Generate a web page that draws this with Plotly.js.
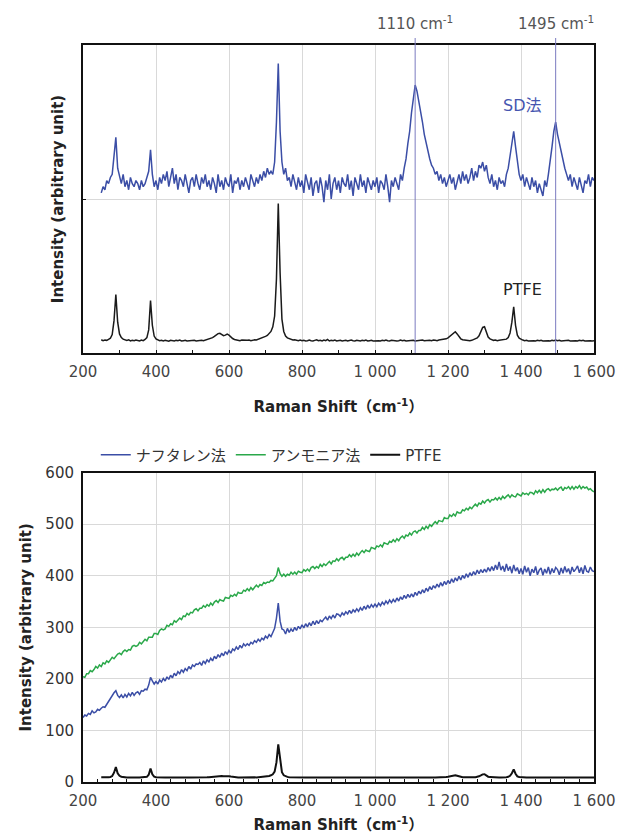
<!DOCTYPE html>
<html><head><meta charset="utf-8">
<script src="https://cdn.plot.ly/plotly-3.0.1.min.js"></script>
<style>html,body{margin:0;padding:0;background:#fff}#chart{width:617px;height:834px}</style>
</head><body><div id="chart"></div>
<script>
// Raman shift grid (cm-1)
const shift = [
200,205,210,215,220,225,230,235,240,245,
250,255,260,265,270,275,280,285,290,295,
300,305,310,315,320,325,330,335,340,345,
350,355,360,365,370,375,380,385,390,395,
400,405,410,415,420,425,430,435,440,445,
450,455,460,465,470,475,480,485,490,495,
500,505,510,515,520,525,530,535,540,545,
550,555,560,565,570,575,580,585,590,595,
600,605,610,615,620,625,630,635,640,645,
650,655,660,665,670,675,680,685,690,695,
700,705,710,715,720,725,730,735,740,745,
750,755,760,765,770,775,780,785,790,795,
800,805,810,815,820,825,830,835,840,845,
850,855,860,865,870,875,880,885,890,895,
900,905,910,915,920,925,930,935,940,945,
950,955,960,965,970,975,980,985,990,995,
1000,1005,1010,1015,1020,1025,1030,1035,1040,1045,
1050,1055,1060,1065,1070,1075,1080,1085,1090,1095,
1100,1105,1110,1115,1120,1125,1130,1135,1140,1145,
1150,1155,1160,1165,1170,1175,1180,1185,1190,1195,
1200,1205,1210,1215,1220,1225,1230,1235,1240,1245,
1250,1255,1260,1265,1270,1275,1280,1285,1290,1295,
1300,1305,1310,1315,1320,1325,1330,1335,1340,1345,
1350,1355,1360,1365,1370,1375,1380,1385,1390,1395,
1400,1405,1410,1415,1420,1425,1430,1435,1440,1445,
1450,1455,1460,1465,1470,1475,1480,1485,1490,1495,
1500,1505,1510,1515,1520,1525,1530,1535,1540,1545,
1550,1555,1560,1565,1570,1575,1580,1585,1590,1595,
1600];

// Upper panel (arbitrary, offset spectra)
const sdMethod = [
null,null,null,null,null,null,null,null,null,null,
52,54,53,56,55,57,58,63,70,60,
57,55,58,54,56,53,57,55,54,56,
55,53,56,54,55,57,59,66,58,54,
56,53,57,55,58,56,59,54,57,60,
55,58,53,57,56,54,58,55,52,56,
57,54,58,55,53,57,55,58,54,56,
53,57,55,52,58,54,56,53,57,55,
54,58,52,56,55,57,53,56,54,57,
55,53,58,56,54,57,55,58,56,59,
57,60,58,59,58,62,75,94,72,62,
58,60,56,57,54,58,55,53,57,54,
56,52,58,55,53,57,51,55,56,52,
57,54,49,56,53,58,50,55,57,53,
56,52,57,55,54,58,53,56,51,57,
55,53,58,54,56,52,57,55,53,56,
54,57,52,56,55,53,58,54,49,56,
54,57,55,53,58,56,60,63,68,72,
78,83,87,85,82,79,75,71,68,66,
63,61,60,58,59,56,58,55,57,54,
56,58,55,57,53,56,58,55,59,56,
58,55,57,60,56,59,57,61,60,62,
59,61,57,55,58,54,56,53,57,55,
56,54,58,60,64,68,72,67,62,58,
56,58,54,57,55,53,57,54,56,52,
55,53,51,56,54,58,62,67,72,75,
71,68,66,63,60,58,56,58,54,57,
55,53,57,54,52,56,55,58,54,57,
56];

const ptfeUpper = [
null,null,null,null,null,null,null,null,null,null,
4.3,4.0,4.2,4.1,4.4,4.8,6.0,10.5,19.0,10.0,
6.2,5.0,4.5,4.2,4.1,4.3,3.9,4.1,4.0,4.2,
4.1,3.9,4.2,4.0,4.4,5.0,7.5,17.0,9.0,5.5,
4.6,4.2,4.0,4.1,3.9,4.1,4.0,3.8,4.1,4.0,
3.9,4.1,4.0,4.2,3.9,4.0,4.1,3.9,4.0,4.1,
4.0,4.1,3.9,4.0,4.2,4.1,4.0,4.2,4.3,4.5,
4.8,5.0,5.4,5.9,6.3,6.4,5.9,5.6,5.8,6.1,
5.8,5.2,4.7,4.4,4.2,4.1,4.0,4.2,4.1,4.0,
4.1,4.2,4.0,4.1,4.3,4.2,4.4,4.6,4.8,5.1,
5.4,5.7,6.2,7.0,8.5,12.0,24.0,48.5,26.0,11.0,
7.0,5.5,4.9,4.6,4.4,4.2,4.3,4.1,4.0,4.2,
4.0,4.1,3.9,4.0,4.2,4.0,3.9,4.1,4.3,4.0,
4.1,3.9,4.2,4.0,4.4,3.9,4.1,4.0,4.2,3.9,
4.0,4.1,3.9,4.0,4.1,3.9,4.0,4.2,4.0,3.9,
4.1,4.0,3.9,4.1,4.0,4.2,3.9,4.0,4.1,3.9,
4.0,4.1,4.0,3.9,4.1,4.0,4.2,4.0,3.9,4.1,
4.0,4.1,3.9,4.0,4.2,4.0,4.1,3.9,4.0,4.1,
4.0,4.1,3.9,4.0,4.1,4.0,4.2,4.0,4.1,4.0,
4.1,4.0,4.2,4.1,4.0,4.2,4.3,4.2,4.4,4.6,
4.9,5.4,6.0,6.6,6.9,6.2,5.2,4.6,4.3,4.2,
4.1,4.2,4.0,4.1,4.3,4.5,4.9,5.6,6.8,8.3,
8.5,6.8,5.2,4.6,4.3,4.1,4.2,4.0,4.1,4.2,
4.1,4.3,4.5,5.0,6.5,10.0,15.0,9.0,5.8,4.8,
4.4,4.2,4.0,4.1,3.9,4.0,4.1,4.0,3.9,4.1,
4.0,4.1,3.9,4.0,4.1,4.0,3.9,4.1,4.0,4.2,
4.0,4.1,3.9,4.0,4.1,4.0,4.1,3.9,4.0,4.1,
4.0,3.9,4.1,4.0,4.1,3.9,4.0,4.1,4.0,3.9,
4.0];

// Lower panel (intensity, arbitrary unit)
const naphthalene = [
125,130,128,133,131,138,134,136,141,139,
143,146,145,151,155,163,167,173,177,168,
164,169,163,170,165,172,167,174,168,173,
175,170,177,176,180,179,188,203,196,190,
195,190,198,194,201,196,204,199,207,202,
211,206,214,210,218,213,220,216,224,219,
227,224,229,228,232,226,235,230,237,233,
240,235,244,239,247,242,250,245,253,248,
255,250,258,255,262,257,265,260,268,264,
268,265,271,268,274,271,277,273,279,276,
283,279,286,282,290,298,318,347,312,297,
295,287,298,290,297,292,300,294,302,297,
305,299,307,301,309,303,312,305,313,307,
314,311,316,320,314,322,317,324,318,326,
325,321,328,324,330,326,333,327,334,330,
336,331,338,333,341,335,343,337,344,339,
345,340,347,342,349,344,351,346,353,348,
354,349,357,351,359,354,362,356,364,358,
365,359,368,362,370,365,373,367,376,370,
379,373,381,376,384,378,387,380,389,383,
391,385,394,387,396,390,399,392,401,395,
404,397,406,400,408,402,411,404,412,406,
413,407,416,409,418,410,421,412,427,411,
419,408,423,410,418,405,421,409,416,404,
414,403,419,407,416,400,413,406,418,402,
411,415,401,413,405,417,403,414,406,416,
412,402,415,405,418,407,414,403,417,408,
413,419,406,416,404,420,409,407,417,410,
408];

const ammonia = [
204,203,210,210,216,214,218,224,221,227,
224,231,229,235,232,238,242,239,244,248,
250,247,253,256,253,257,256,263,265,263,
265,271,268,273,277,274,281,281,281,288,
288,286,294,297,295,297,304,302,307,305,
313,310,314,318,315,322,321,327,324,329,
328,334,336,332,337,337,342,339,344,341,
347,343,349,352,348,354,352,351,358,357,
356,362,360,364,361,368,366,366,372,370,
375,371,377,373,378,382,378,383,381,387,
385,388,387,391,390,394,400,416,404,399,
403,399,403,401,407,403,407,403,409,407,
406,412,409,413,409,416,418,414,418,415,
422,418,423,420,425,428,423,429,428,433,
429,434,436,431,436,436,441,437,442,438,
444,440,445,449,445,450,448,447,455,453,
452,458,456,460,456,464,462,461,467,465,
470,466,472,468,474,477,473,479,477,483,
479,485,487,483,488,488,494,490,496,492,
499,496,501,505,501,507,506,505,513,511,
511,518,515,520,516,524,522,522,528,526,
531,528,533,530,535,539,535,541,539,545,
541,546,548,543,548,547,551,547,552,548,
554,550,554,557,552,557,554,553,559,557,
555,561,558,560,557,562,561,558,565,561,
566,561,567,562,567,569,565,568,567,570,
566,570,572,565,571,569,573,568,573,568,
573,570,575,569,573,570,572,567,569,565,
563];

const ptfeLower = [
null,null,null,null,null,null,null,null,null,null,
9.0,8.7,8.9,8.8,9.2,9.8,11.5,18.0,29.0,17.0,
12.0,10.2,9.4,9.0,8.8,8.9,8.6,8.8,8.7,8.9,
8.8,8.6,8.9,8.7,9.1,10.0,14.0,26.0,15.0,10.5,
9.4,9.0,8.7,8.8,8.6,8.8,8.7,8.5,8.8,8.7,
8.6,8.8,8.7,8.9,8.6,8.7,8.8,8.6,8.7,8.8,
8.7,8.8,8.6,8.7,8.9,8.8,8.7,8.9,9.1,9.4,
9.8,10.2,10.8,11.5,12.0,12.1,11.5,11.0,11.3,11.8,
11.3,10.5,9.8,9.3,9.0,8.8,8.7,8.9,8.8,8.7,
8.8,8.9,8.7,8.8,9.0,8.9,9.2,9.4,9.7,10.1,
10.5,11.0,11.8,13.0,15.0,20.0,38.0,73.0,41.0,19.0,
13.0,10.8,9.9,9.4,9.2,8.9,9.0,8.8,8.7,8.9,
8.7,8.8,8.6,8.7,8.9,8.7,8.6,8.8,9.0,8.7,
8.8,8.6,8.9,8.7,9.1,8.6,8.8,8.7,8.9,8.6,
8.7,8.8,8.6,8.7,8.8,8.6,8.7,8.9,8.7,8.6,
8.8,8.7,8.6,8.8,8.7,8.9,8.6,8.7,8.8,8.6,
8.7,8.8,8.7,8.6,8.8,8.7,8.9,8.7,8.6,8.8,
8.7,8.8,8.6,8.7,8.9,8.7,8.8,8.6,8.7,8.8,
8.7,8.8,8.6,8.7,8.8,8.7,8.9,8.7,8.8,8.7,
8.8,8.7,8.9,8.8,8.7,8.9,9.0,8.9,9.2,9.5,
10.0,10.8,11.8,12.6,13.0,12.0,10.6,9.6,9.1,9.0,
8.8,8.9,8.7,8.8,9.1,9.4,10.0,11.0,12.8,14.8,
15.0,12.5,10.3,9.5,9.1,8.8,8.9,8.7,8.8,8.9,
8.8,9.1,9.4,10.0,12.0,17.0,24.5,16.0,11.0,9.6,
9.1,8.9,8.7,8.8,8.6,8.7,8.8,8.7,8.6,8.8,
8.7,8.8,8.6,8.7,8.8,8.7,8.6,8.8,8.7,8.9,
8.7,8.8,8.6,8.7,8.8,8.7,8.8,8.6,8.7,8.8,
8.7,8.6,8.8,8.7,8.8,8.6,8.7,8.8,8.7,8.6,
8.7];

const bandShifts = [1110, 1495];
const bandLabels = ['1110 cm<sup>-1</sup>', '1495 cm<sup>-1</sup>'];
const seriesNames = ['ナフタレン法', 'アンモニア法', 'PTFE'];
const upperLabels = ['SD法', 'PTFE'];
const upperLabelPos = [[1403, 80.5], [1403, 20.5]];
const xTicks = [200, 400, 600, 800, 1000, 1200, 1400, 1600];
const yTicksLower = [0, 100, 200, 300, 400, 500, 600];

const FONT = 'DejaVu Sans, "Noto Sans CJK JP", sans-serif';
const BLUE = '#3b4ea6';
const GREEN = '#2aa84a';

const traces = [
  {x: shift, y: sdMethod, xaxis: 'x', yaxis: 'y', type: 'scatter', mode: 'lines', line: {color: BLUE, width: 1.5}, showlegend: false, name: 'SD法'},
  {x: shift, y: ptfeUpper, xaxis: 'x', yaxis: 'y', type: 'scatter', mode: 'lines', line: {color: '#1a1a1a', width: 1.5}, showlegend: false, name: 'PTFE'},
  {x: shift, y: naphthalene, xaxis: 'x2', yaxis: 'y2', type: 'scatter', mode: 'lines', line: {color: BLUE, width: 1.5}, name: seriesNames[0]},
  {x: shift, y: ammonia, xaxis: 'x2', yaxis: 'y2', type: 'scatter', mode: 'lines', line: {color: GREEN, width: 1.5}, name: seriesNames[1]},
  {x: shift, y: ptfeLower, xaxis: 'x2', yaxis: 'y2', type: 'scatter', mode: 'lines', line: {color: '#111', width: 2}, name: seriesNames[2]}
];

const xCommon = {
  range: [200, 1600], tickvals: xTicks, separatethousands: true,
  showgrid: true, gridcolor: '#d9d9d9', gridwidth: 1,
  showline: true, linecolor: '#111', linewidth: 2, mirror: true,
  ticks: 'inside', ticklen: 3, tickcolor: '#111', zeroline: false,
  tickfont: {family: FONT, size: 15, color: '#444'}, ticklabelstandoff: 4
};

const layout = {
  width: 617, height: 834,
  margin: {l: 83, r: 23, t: 45, b: 52},
  paper_bgcolor: '#fff', plot_bgcolor: '#fff',
  separators: '. ',
  showlegend: true,
  legend: {orientation: 'h', x: 0.025, xanchor: 'left', y: 0.4437, yanchor: 'middle',
    font: {family: FONT, size: 15, color: '#333'}, itemwidth: 30, bgcolor: 'rgba(0,0,0,0)', tracegroupgap: 0},
  xaxis: Object.assign({}, xCommon, {anchor: 'y', domain: [0, 1],
    minor: {dtick: 100, ticks: 'inside', ticklen: 3, tickcolor: '#111', showgrid: false},
    title: {text: '<b>Raman Shift（cm<sup>-1</sup>）</b>', font: {family: FONT, size: 15, color: '#222'}, standoff: 22}}),
  yaxis: {anchor: 'x', domain: [0.5821, 1], range: [0, 100], tickvals: [0, 50, 100],
    showticklabels: false, showgrid: true, gridcolor: '#d9d9d9',
    showline: true, linecolor: '#111', linewidth: 2, mirror: true, ticks: 'inside', ticklen: 3, tickcolor: '#111', zeroline: false,
    title: {text: '<b>Intensity (arbitrary unit)</b>', font: {family: FONT, size: 15, color: '#222'}, standoff: 14}},
  xaxis2: Object.assign({}, xCommon, {anchor: 'y2', domain: [0, 1],
    minor: {dtick: 40, ticks: 'inside', ticklen: 3, tickcolor: '#111', showgrid: false},
    title: {text: '<b>Raman Shift（cm<sup>-1</sup>）</b>', font: {family: FONT, size: 15, color: '#222'}, standoff: 16}}),
  yaxis2: {anchor: 'x2', domain: [0, 0.4197], range: [0, 600], tickvals: yTicksLower,
    showgrid: true, gridcolor: '#d9d9d9',
    showline: true, linecolor: '#111', linewidth: 2, mirror: true, ticks: '', zeroline: false,
    tickfont: {family: FONT, size: 15, color: '#333'}, ticklabelstandoff: 4,
    title: {text: '<b>Intensity (arbitrary unit)</b>', font: {family: FONT, size: 15, color: '#222'}, standoff: 10}},
  shapes: bandShifts.map(s => ({type: 'line', xref: 'x', yref: 'y domain', x0: s, x1: s, y0: 0, y1: 1.0227,
    line: {color: '#7b7bc0', width: 1}})),
  annotations: bandShifts.map((s, i) => ({x: s, xref: 'x', y: 1.0714, yref: 'y domain', text: bandLabels[i],
      showarrow: false, xanchor: 'center', yanchor: 'middle', font: {family: FONT, size: 15, color: '#555'}}))
    .concat(upperLabels.map((t, i) => ({x: upperLabelPos[i][0], y: upperLabelPos[i][1], xref: 'x', yref: 'y', text: t,
      showarrow: false, xanchor: 'center', yanchor: 'middle',
      font: {family: FONT, size: 16, color: i === 0 ? '#4656b0' : '#222'}})))
};

Plotly.newPlot('chart', traces, layout, {displayModeBar: false, staticPlot: true});
</script>
</body></html>
